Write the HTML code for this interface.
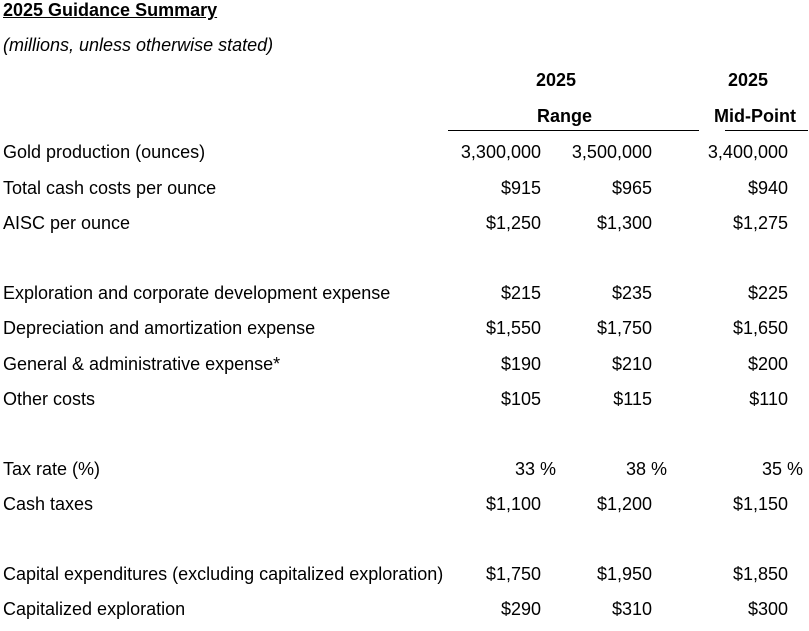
<!DOCTYPE html>
<html><head><style>
body{margin:0;width:809px;height:631px;background:#fff;font-family:"Liberation Sans",Arial,sans-serif;color:#000;position:relative;overflow:hidden}
.t{position:absolute;font-size:18px;line-height:20px;white-space:nowrap}
.r{text-align:right}
.l{position:absolute;height:1px;background:#000}
</style></head><body>
<div class="t" style="left:3px;top:0px;font-weight:bold;text-decoration:underline">2025 Guidance Summary</div>
<div class="t" style="left:3px;top:35px;font-style:italic">(millions, unless otherwise stated)</div>
<div class="t" style="left:536px;top:70px;font-weight:bold">2025</div>
<div class="t" style="left:728px;top:70px;font-weight:bold">2025</div>
<div class="t" style="left:537px;top:106px;font-weight:bold">Range</div>
<div class="t" style="left:714px;top:106px;font-weight:bold">Mid-Point</div>
<div class="l" style="left:448px;top:130px;width:251px"></div>
<div class="l" style="left:725px;top:130px;width:83px"></div>
<div id="rows"></div>
<script>
var rows=[
[142,"Gold production (ounces)","3,300,000","3,500,000","3,400,000"],
[178,"Total cash costs per ounce","$915","$965","$940"],
[213,"AISC per ounce","$1,250","$1,300","$1,275"],
[283,"Exploration and corporate development expense","$215","$235","$225"],
[318,"Depreciation and amortization expense","$1,550","$1,750","$1,650"],
[354,"General &amp; administrative expense*","$190","$210","$200"],
[389,"Other costs","$105","$115","$110"],
[459,"Tax rate (%)","33 %","38 %","35 %",1],
[494,"Cash taxes","$1,100","$1,200","$1,150"],
[564,"Capital expenditures (excluding capitalized exploration)","$1,750","$1,950","$1,850"],
[599,"Capitalized exploration","$290","$310","$300"]];
var h="";
rows.forEach(function(r){
var o=r[5]?15:0;
h+='<div class="t" style="left:3px;top:'+r[0]+'px">'+r[1]+'</div>';
h+='<div class="t r" style="right:'+(809-541-o)+'px;top:'+r[0]+'px">'+r[2]+'</div>';
h+='<div class="t r" style="right:'+(809-652-o)+'px;top:'+r[0]+'px">'+r[3]+'</div>';
h+='<div class="t r" style="right:'+(809-788-o)+'px;top:'+r[0]+'px">'+r[4]+'</div>';
});
document.getElementById("rows").innerHTML=h;
</script>
</body></html>
